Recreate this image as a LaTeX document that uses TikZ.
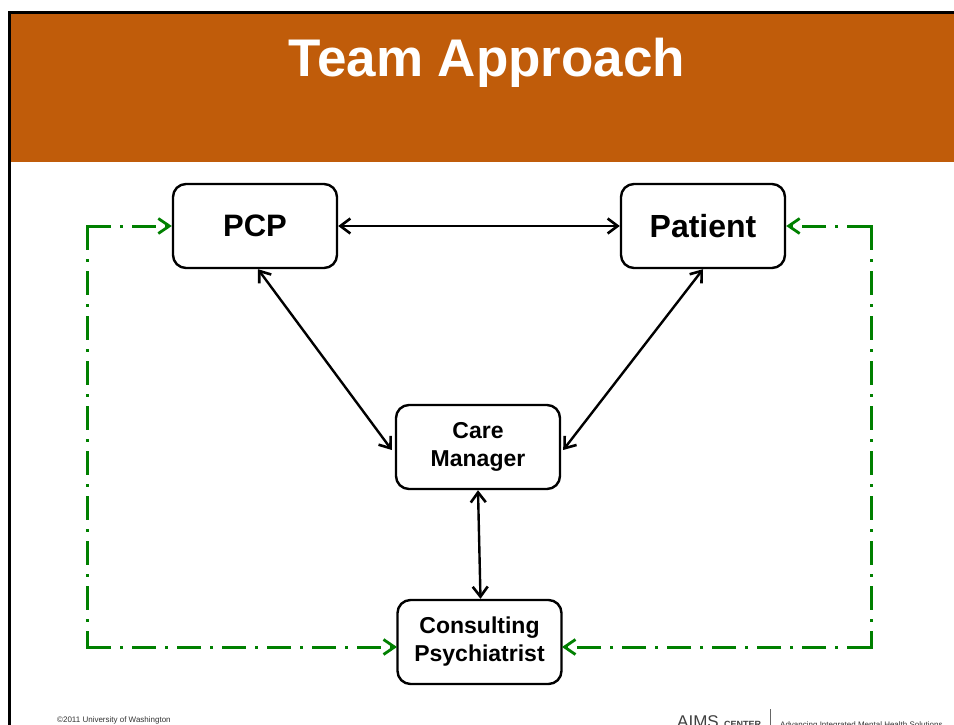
\documentclass[tikz,border=0pt]{standalone}
\usepackage{fontspec}
\setmainfont{Liberation Sans}
\usetikzlibrary{arrows.meta}
\definecolor{burnt}{RGB}{192,92,10}
\definecolor{dgreen}{RGB}{0,128,0}
\tikzset{
  box/.style={draw=black, line width=2.4pt, rounded corners=13pt, minimum width=164pt, minimum height=84pt, align=center, font=\bfseries},
  bh/.tip={Straight Barb[length=10pt,width=15pt,line width=2.6pt]},
  gh/.tip={Straight Barb[length=11pt,width=15pt,line width=2.8pt]},
  blk/.style={draw=black, line width=2.4pt, bh-bh},
  grn/.style={draw=dgreen, line width=3pt, dash pattern=on 24pt off 9pt on 3pt off 9pt},
  foot/.style={font=\fontsize{8}{9}\selectfont, text=black!80, inner sep=0pt}
}
\begin{document}
\begin{tikzpicture}[x=1pt,y=-1pt]
\useasboundingbox (0,0) rectangle (954,725);
\fill[white] (0,0) rectangle (954,725);
\begin{scope}
\clip (0,0) rectangle (954,725);
% frame and header band
\fill[burnt] (10,14) rectangle (954,162);
\draw[line width=3pt] (9,740) -- (9,12.5) -- (960,12.5);
\node[anchor=base, text=white, font=\fontsize{53}{60}\selectfont\bfseries, inner sep=0pt] (title) at (487,77) {Team Approach};

% nodes
\node[box, font=\fontsize{31}{36}\selectfont\bfseries] (pcp) at (255,226) {PCP};
\node[box, font=\fontsize{32}{36}\selectfont\bfseries] (pat) at (703,226) {Patient};
\node[box, font=\fontsize{23}{28}\selectfont\bfseries] (cm) at (478,447) {Care\\Manager};
\node[box, font=\fontsize{23}{28}\selectfont\bfseries] (psy) at (479.5,642) {Consulting\\Psychiatrist};

% black connectors
\draw[blk] (pcp.east) -- (pat.west);
\draw[blk] ([xshift=3pt]pcp.south) -- ([xshift=-3pt,yshift=-3pt]cm.west);
\draw[blk] (pat.south) -- ([xshift=2pt,yshift=-3pt]cm.east);
\draw[blk] (cm.south) -- ([xshift=1pt]psy.north);

% green dash-dot feedback loops
\coordinate (lt) at (87,226);
\coordinate (lb) at (87,647);
\coordinate (rt) at (871,226);
\coordinate (rb) at (871,647);
\coordinate (pl) at (397,647);
\coordinate (pr) at (562,647);
\draw[grn, -gh] (lt) -- (pcp.west);
\draw[grn] (lt) -- (lb);
\draw[grn, -gh] (lb) -- (pl);
\draw[grn, -gh] (rt) -- (pat.east);
\draw[grn] (rt) -- (rb);
\draw[grn, -gh] (rb) -- (pr);
\fill[dgreen] (85.5,224.5) rectangle (88.5,227.5);
\fill[dgreen] (85.5,645.5) rectangle (88.5,648.5);
\fill[dgreen] (869.5,224.5) rectangle (872.5,227.5);
\fill[dgreen] (869.5,645.5) rectangle (872.5,648.5);

% footer
\node[foot, anchor=base west] (copy) at (57,722) {©2011 University of Washington};
\node[anchor=base west, inner sep=0pt, font=\fontsize{17}{18}\selectfont, text=black!75] (aims) at (677,727) {AIMS};
\node[anchor=base west, inner sep=0pt, font=\fontsize{9}{10}\selectfont\bfseries, text=black!75] (center) at (724,727) {CENTER};
\draw[black!60, line width=0.8pt] (770,709) -- (770,727);
\node[foot, anchor=base west] (slogan) at (780,727) {Advancing Integrated Mental Health Solutions};
\end{scope}
\end{tikzpicture}
\end{document}
